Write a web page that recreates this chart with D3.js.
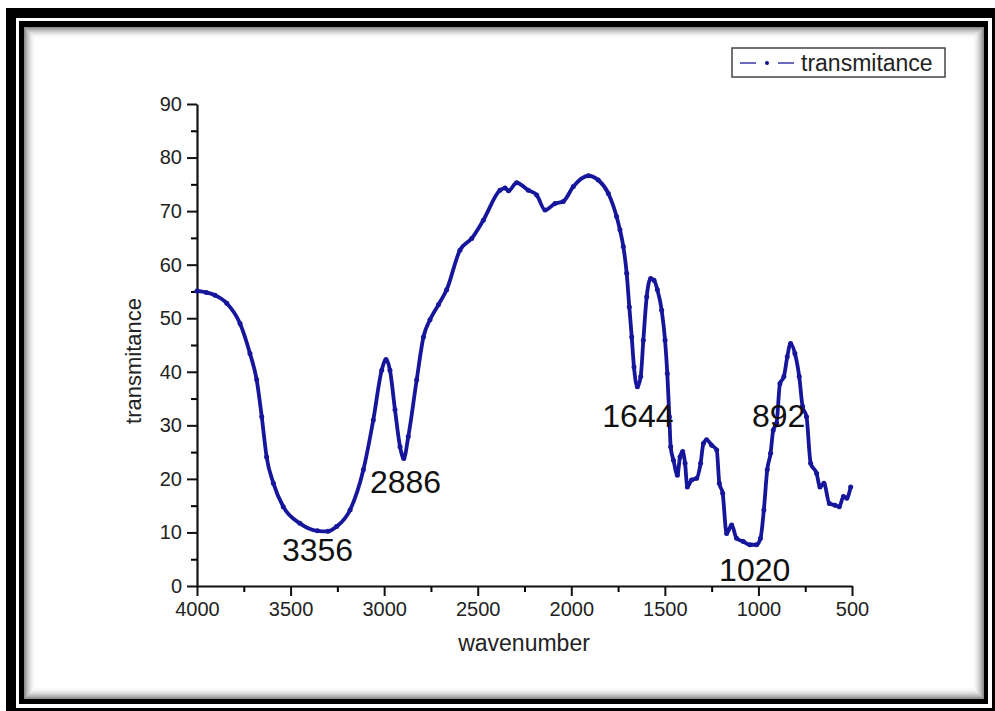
<!DOCTYPE html>
<html>
<head>
<meta charset="utf-8">
<script src="https://cdn.jsdelivr.net/npm/d3@7"></script>
<style>
  html, body { margin: 0; padding: 0; background: #fff; }
  svg text { font-family: "Liberation Sans", Arial, Helvetica, sans-serif; }
</style>
</head>
<body>
<svg id="chart" width="995" height="711"></svg>
<script>
// spectrum (wavenumber, % transmitance)
var wavenumber = [4000, 3950, 3904, 3841, 3770, 3717, 3681, 3654, 3628, 3592, 3539, 3450, 3356, 3300,
    3254, 3182, 3111, 3058, 3013, 2990, 2969, 2942, 2915, 2895, 2871, 2826, 2790, 2755, 2710, 2666,
    2595, 2532, 2470, 2381, 2354, 2335, 2292, 2230, 2185, 2140, 2087, 2043, 1989, 1909, 1856, 1802,
    1758, 1740, 1722, 1704, 1690, 1677, 1665, 1647, 1629, 1615, 1597, 1576, 1558, 1540, 1517, 1499,
    1487, 1476, 1469, 1454, 1433, 1419, 1405, 1392, 1380, 1357, 1330, 1309, 1294, 1277, 1250, 1223,
    1209, 1191, 1170, 1143, 1117, 1081, 1045, 1010, 989, 971, 953, 935, 921, 903, 885, 864, 846,
    828, 805, 782, 764, 743, 721, 689, 671, 650, 621, 591, 568, 546, 528, 507];
var transmitance = [55.1, 54.8, 54.3, 52.8, 49.0, 43.4, 38.5, 31.6, 24.1, 19.2, 14.8, 11.7, 10.3, 10.2,
    11.1, 14.2, 21.7, 31.0, 40.3, 42.3, 40.3, 32.9, 26.0, 23.8, 27.9, 38.5, 46.5, 49.7, 52.5, 55.3,
    62.7, 64.9, 68.3, 73.9, 74.3, 73.8, 75.3, 73.9, 73.0, 70.2, 71.4, 71.8, 74.6, 76.6, 75.8, 73.3,
    69.0, 66.5, 63.4, 58.4, 52.1, 46.5, 40.9, 37.2, 39.1, 45.9, 54.0, 57.4, 57.1, 55.3, 51.5, 45.9,
    39.7, 31.6, 26.0, 23.5, 20.7, 24.1, 25.1, 22.9, 18.5, 19.8, 20.1, 22.9, 26.6, 27.3, 26.3, 25.4,
    19.2, 17.3, 9.8, 11.4, 8.9, 8.3, 7.7, 7.7, 8.9, 14.2, 21.7, 24.8, 29.1, 30.4, 37.8, 39.1, 42.8,
    45.3, 43.4, 39.1, 33.5, 31.6, 22.9, 21.0, 18.5, 19.2, 15.4, 15.1, 14.8, 16.7, 16.4, 18.5];

// peak labels
var peakLabels = ["3356", "2886", "1644", "892", "1020"];
var peakAt = [[3356, 4.7], [2886, 17.4], [1644, 29.7], [892, 29.7], [1020, 1.0]];

var xTicks = [4000, 3500, 3000, 2500, 2000, 1500, 1000, 500];
var yTicks = [0, 10, 20, 30, 40, 50, 60, 70, 80, 90];

var svg = d3.select("#chart");
var lineColor = "#16169c";

// ---- picture frame ----
svg.append("rect").attr("x", 6).attr("y", 8).attr("width", 989).attr("height", 703).attr("fill", "#000");
svg.append("rect").attr("x", 16).attr("y", 18).attr("width", 976).attr("height", 690).attr("fill", "#fff");
svg.append("rect").attr("x", 19).attr("y", 21).attr("width", 969).attr("height", 683).attr("fill", "#000");
svg.append("rect").attr("x", 24).attr("y", 27).attr("width", 960).attr("height", 672).attr("fill", "#fff");
// inner shadow
for (var i = 0; i < 12; i++) {
    svg.append("rect")
        .attr("x", 24 + i + 0.5).attr("y", 27 + i + 0.5)
        .attr("width", 960 - 2 * i - 1).attr("height", 672 - 2 * i - 1)
        .attr("fill", "none")
        .attr("stroke", "#000")
        .attr("stroke-opacity", 0.45 * Math.pow(1 - i / 12, 2));
}

// ---- plot ----
var x = d3.scaleLinear().domain([4000, 500]).range([197, 852]);
var y = d3.scaleLinear().domain([0, 90]).range([586, 104]);

var g = svg.append("g");

// minor ticks
g.append("g")
    .attr("transform", "translate(0,586)")
    .call(d3.axisBottom(x).tickValues(d3.range(3750, 500, -500)).tickSize(6).tickFormat(""))
    .call(function (a) { a.select(".domain").remove(); a.selectAll("line").attr("stroke-width", 2); });
g.append("g")
    .attr("transform", "translate(197,0)")
    .call(d3.axisLeft(y).tickValues(d3.range(5, 90, 10)).tickSize(6).tickFormat(""))
    .call(function (a) { a.select(".domain").remove(); a.selectAll("line").attr("stroke-width", 2); });

// major axes
var xAxis = g.append("g")
    .attr("transform", "translate(0,586)")
    .call(d3.axisBottom(x).tickValues(xTicks).tickFormat(d3.format("d"))
        .tickSize(10).tickSizeOuter(0).tickPadding(6));
var yAxis = g.append("g")
    .attr("transform", "translate(197,0)")
    .call(d3.axisLeft(y).tickValues(yTicks).tickFormat(d3.format("d"))
        .tickSize(10).tickSizeOuter(0).tickPadding(5));

[xAxis, yAxis].forEach(function (a) {
    a.select(".domain").attr("stroke-width", 2.2).attr("stroke", "#111");
    a.selectAll("line").attr("stroke-width", 2).attr("stroke", "#111");
    a.selectAll("text").attr("font-size", 20).attr("fill", "#222")
        .style("font-family", "'Liberation Sans', Arial, sans-serif");
});

// axis titles
svg.append("text")
    .attr("x", 524).attr("y", 651)
    .attr("text-anchor", "middle")
    .attr("font-size", 23).attr("fill", "#222")
    .text("wavenumber");
svg.append("text")
    .attr("transform", "translate(141,361) rotate(-90)")
    .attr("text-anchor", "middle")
    .attr("font-size", 22).attr("fill", "#222")
    .text("transmitance");

// spectrum
var pts = wavenumber.map(function (w, i) { return [w, transmitance[i]]; });
var line = d3.line()
    .x(function (d) { return x(d[0]); })
    .y(function (d) { return y(d[1]); })
    .curve(d3.curveMonotoneX);

g.append("path")
    .datum(pts)
    .attr("d", line)
    .attr("fill", "none")
    .attr("stroke", lineColor)
    .attr("stroke-width", 3.8)
    .attr("stroke-linejoin", "round");

g.selectAll("circle.pt")
    .data(pts)
    .enter().append("circle")
    .attr("class", "pt")
    .attr("cx", function (d) { return x(d[0]); })
    .attr("cy", function (d) { return y(d[1]); })
    .attr("r", 2.5)
    .attr("fill", lineColor);

// peak annotations
g.selectAll("text.peak")
    .data(peakLabels)
    .enter().append("text")
    .attr("class", "peak")
    .attr("x", function (d, i) { return x(peakAt[i][0]); })
    .attr("y", function (d, i) { return y(peakAt[i][1]); })
    .attr("text-anchor", "middle")
    .attr("font-size", 32)
    .attr("fill", "#111")
    .text(function (d) { return d; });

// legend
var lg = svg.append("g");
lg.append("rect")
    .attr("x", 732).attr("y", 48).attr("width", 213).attr("height", 29)
    .attr("fill", "#fff").attr("stroke", "#444").attr("stroke-width", 1.5);
lg.append("line").attr("x1", 740).attr("x2", 756).attr("y1", 63).attr("y2", 63)
    .attr("stroke", "#3a3aa8").attr("stroke-width", 1.5);
lg.append("line").attr("x1", 778).attr("x2", 794).attr("y1", 63).attr("y2", 63)
    .attr("stroke", "#3a3aa8").attr("stroke-width", 1.5);
lg.append("circle").attr("cx", 767).attr("cy", 63).attr("r", 2).attr("fill", "#10108a");
lg.append("text")
    .attr("x", 801).attr("y", 71)
    .attr("font-size", 23).attr("fill", "#222")
    .text("transmitance");
</script>
</body>
</html>
